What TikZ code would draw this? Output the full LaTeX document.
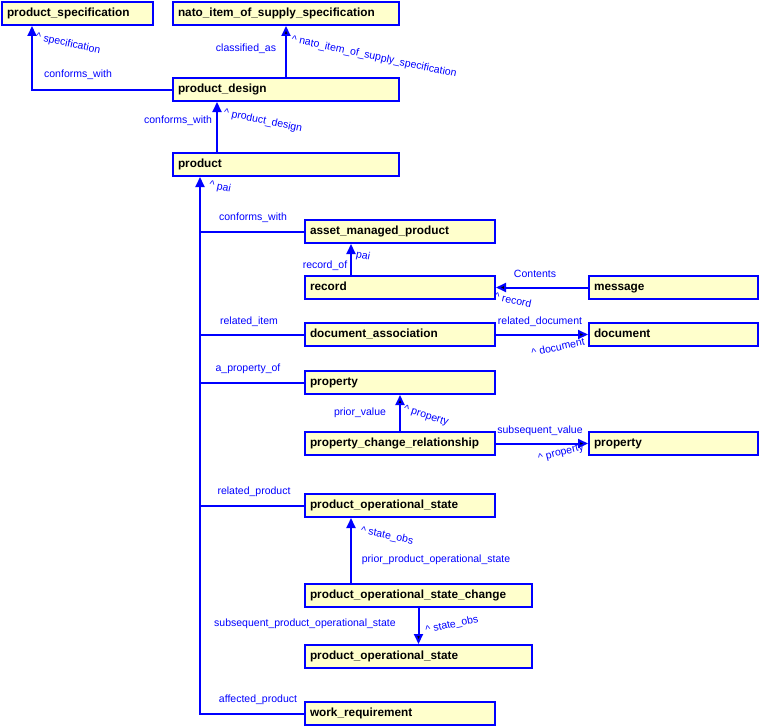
\documentclass[tikz,border=0pt]{standalone}
\usepackage{fontspec}
\setmainfont{Liberation Sans}
\usetikzlibrary{arrows.meta}
\definecolor{boxfill}{RGB}{255,255,204}

\begin{document}
\begin{tikzpicture}[x=1pt,y=-1pt]
  
  \tikzset{main node/.style={rectangle, draw=blue, fill=boxfill, line width=2pt,
  		anchor=north west, minimum height=23pt, inner xsep=5pt, inner ysep=0pt,
  		text height=8.5pt, text depth=2.5pt,
  		align=left, font=\fontsize{11.8}{13}\selectfont\bfseries}, }
  \tikzset{rel/.style={text=blue, inner sep=0pt, font=\fontsize{10.5}{12}\selectfont}, }
  \tikzset{linea/.style={-{Triangle[length=10pt,width=9pt]}, draw=blue, line width=2pt}, }
  \tikzset{lineb/.style={draw=blue, line width=2pt}, }
\useasboundingbox (0,0) rectangle (759,725);
\node[main node, text width=141pt] (1) at (1,1) {product\_specification};
\node[main node, text width=216pt] (2) at (172,1) {nato\_item\_of\_supply\_specification};
\node[main node, text width=216pt] (3) at (172,77) {product\_design};
\node[main node, text width=216pt] (4) at (172,152) {product};
\node[main node, text width=180pt] (5) at (304,219) {asset\_managed\_product};
\node[main node, text width=180pt] (6) at (304,275) {record};
\node[main node, text width=159pt] (7) at (588,275) {message};
\node[main node, text width=180pt] (8) at (304,322) {document\_association};
\node[main node, text width=159pt] (9) at (588,322) {document};
\node[main node, text width=180pt] (10) at (304,370) {property};
\node[main node, text width=180pt] (11) at (304,431) {property\_change\_relationship};
\node[main node, text width=159pt] (12) at (588,431) {property};
\node[main node, text width=180pt] (13) at (304,493) {product\_operational\_state};
\node[main node, text width=217pt] (14) at (304,583) {product\_operational\_state\_change};
\node[main node, text width=217pt] (15) at (304,644) {product\_operational\_state};
\node[main node, text width=180pt] (16) at (304,701) {work\_requirement};

\coordinate (t) at ([xshift=28pt]4.south west);
\draw[linea] (3.west) -| ([xshift=31pt]1.south west);
\draw[linea] ([xshift=45pt]4.north west) -- ([xshift=45pt]3.south west);
\draw[linea] ([xshift=47pt]6.north west) -- ([xshift=47pt]5.south west);
\draw[linea] ([xshift=47pt]14.north west) -- ([xshift=47pt]13.south west);
\draw[linea] (16.west) -| (t);
\foreach \x in {5,8,10,13}
  \draw[lineb] (\x.west) -- (\x.west -| t);
\foreach \x /\y in {3/2,7/6,8/9,11/10,11/12,14/15}
  \path[linea] (\x) edge (\y);

\node[rel, rotate=-12] (l1) at (68,44) {\textasciicircum\ specification};
\node[rel] (l2) at (78,75) {conforms\_with};
\node[rel] (l3) at (246,49) {classified\_as};
\node[rel, rotate=-12] (l4) at (374,57) {\textasciicircum\ nato\_item\_of\_supply\_specification};
\node[rel] (l5) at (178,121) {conforms\_with};
\node[rel, rotate=-12] (l6) at (263,121) {\textasciicircum\ product\_design};
\node[rel, rotate=-12] (l7) at (220,187) {\textasciicircum\ pai};
\node[rel] (l8) at (253,218) {conforms\_with};
\node[rel, rotate=-12] (l9) at (363,256) {pai};
\node[rel] (l10) at (325,266) {record\_of};
\node[rel] (l11) at (535,274) {Contents};
\node[rel, rotate=-12] (l12) at (513,300) {\textasciicircum\ record};
\node[rel] (l13) at (249,322) {related\_item};
\node[rel] (l14) at (540,322) {related\_document};
\node[rel, rotate=12] (l15) at (558,347) {\textasciicircum\ document};
\node[rel] (l16) at (248,369) {a\_property\_of};
\node[rel] (l17) at (360,413) {prior\_value};
\node[rel, rotate=-18] (l18) at (426,416) {\textasciicircum\ property};
\node[rel] (l19) at (540,431) {subsequent\_value};
\node[rel, rotate=14] (l20) at (561,453) {\textasciicircum\ property};
\node[rel] (l21) at (254,492) {related\_product};
\node[rel, rotate=-12] (l22) at (387,536) {\textasciicircum\ state\_obs};
\node[rel] (l23) at (436,560) {prior\_product\_operational\_state};
\node[rel] (l24) at (305,624) {subsequent\_product\_operational\_state};
\node[rel, rotate=12] (l25) at (452,625) {\textasciicircum\ state\_obs};
\node[rel] (l26) at (258,700) {affected\_product};
%%
\end{tikzpicture}
\end{document}
